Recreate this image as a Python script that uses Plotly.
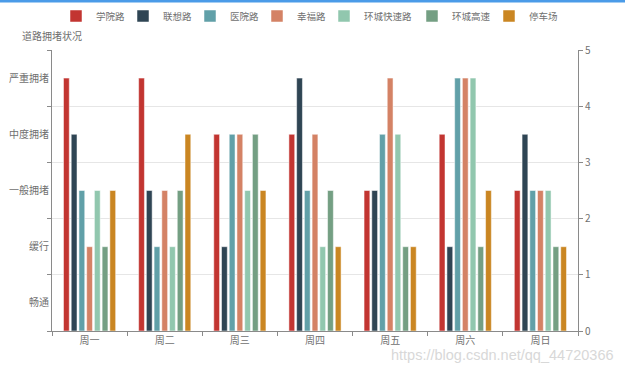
import plotly.graph_objects as go

days = ["周一", "周二", "周三", "周四", "周五", "周六", "周日"]
levels = ["畅通", "缓行", "一般拥堵", "中度拥堵", "严重拥堵"]
series_names = ["学院路", "联想路", "医院路", "幸福路", "环城快速路", "环城高速", "停车场"]
colors = ["#c23531", "#2f4554", "#61a0a8", "#d48265", "#91c7ae", "#749f83", "#ca8622"]

xueyuan = [4.5, 4.5, 3.5, 3.5, 2.5, 3.5, 2.5]
lianxiang = [3.5, 2.5, 1.5, 4.5, 2.5, 1.5, 3.5]
yiyuan = [2.5, 1.5, 3.5, 2.5, 3.5, 4.5, 2.5]
xingfu = [1.5, 2.5, 3.5, 3.5, 4.5, 4.5, 2.5]
huancheng_ks = [2.5, 1.5, 2.5, 1.5, 3.5, 4.5, 2.5]
huancheng_gs = [1.5, 2.5, 3.5, 2.5, 1.5, 1.5, 1.5]
tingche = [2.5, 3.5, 2.5, 1.5, 1.5, 2.5, 1.5]
all_series = [xueyuan, lianxiang, yiyuan, xingfu, huancheng_ks, huancheng_gs, tingche]

# left edge (px) of each legend label text
legend_text_x = [96, 163, 230, 297, 364, 452, 529]

font_family = "Noto Sans CJK SC, Noto Sans, sans-serif"
axis_color = "#8a8a8a"
label_color = "#707070"

W, H = 625, 372
ML, MR, MT, MB = 52, 47, 50, 41
pw = W - ML - MR
ph = H - MT - MB


def px(xp):
    return (xp - ML) / pw


def py(yp):
    return (H - MB - yp) / ph


fig = go.Figure()

# invisible helper so the left category axis renders its labels
fig.add_trace(go.Scatter(x=[days[0]] * len(levels), y=levels, mode="markers",
                         marker=dict(opacity=0), showlegend=False, hoverinfo="skip",
                         xaxis="x", yaxis="y"))

legend_layouts = {}
for i, (name, vals, c) in enumerate(zip(series_names, all_series, colors)):
    lg = "legend" if i == 0 else f"legend{i + 1}"
    fig.add_trace(go.Bar(x=days, y=vals, name=name, legend=lg,
                         marker=dict(color=c, line=dict(color="white", width=0.5)),
                         xaxis="x", yaxis="y2"))
    legend_layouts[lg] = dict(
        orientation="h", xref="container", x=(legend_text_x[i] - 40) / W, xanchor="left",
        yref="container", y=1 - 16 / H, yanchor="middle",
        font=dict(size=9.5, color=label_color), itemwidth=30,
        bgcolor="rgba(0,0,0,0)", borderwidth=0)

fig.update_layout(
    width=W, height=H,
    margin=dict(l=ML, r=MR, t=MT, b=MB, autoexpand=False),
    paper_bgcolor="white", plot_bgcolor="white",
    font=dict(family=font_family, size=10, color=label_color),
    barmode="group", bargap=0.28, bargroupgap=0.25,
    showlegend=True,
    xaxis=dict(type="category", categoryarray=days, tickson="boundaries",
               showline=True, linecolor=axis_color, linewidth=1,
               ticks="outside", ticklen=4, tickcolor=axis_color,
               showgrid=False, tickfont=dict(size=10, color=label_color), zeroline=False),
    yaxis=dict(type="category", categoryarray=levels, categoryorder="array", tickson="boundaries",
               range=[-0.5, 4.5], showline=True, linecolor=axis_color, linewidth=1,
               ticks="outside", ticklen=4, tickcolor=axis_color,
               showgrid=True, gridcolor="#e6e6e6", gridwidth=1,
               tickfont=dict(size=10, color=label_color)),
    yaxis2=dict(overlaying="y", side="right", range=[0, 5], dtick=1,
                showline=True, linecolor=axis_color, linewidth=1,
                ticks="outside", ticklen=4, tickcolor=axis_color,
                showgrid=False, zeroline=False,
                tickfont=dict(size=10, color=label_color)),
    annotations=[
        dict(text="道路拥堵状况", x=px(20), y=py(36), xref="paper", yref="paper", showarrow=False,
             xanchor="left", yanchor="middle", font=dict(size=10, color=label_color)),
        dict(text="https://blog.csdn.net/qq_44720366", x=px(616), y=py(355), xref="paper", yref="paper",
             xanchor="right", yanchor="middle", showarrow=False,
             font=dict(family="Liberation Sans, Arial, sans-serif", size=14.5, color="#d8d8d8")),
    ],
    shapes=[dict(type="rect", xref="paper", yref="paper", x0=px(0), x1=px(W), y0=py(2.5), y1=py(0),
                 line=dict(width=0), fillcolor="#4a9be8", layer="above")],
)
fig.update_layout(**legend_layouts)

fig.write_html("out.html", config={"displayModeBar": False},
               post_script="document.body.style.margin='0';")
